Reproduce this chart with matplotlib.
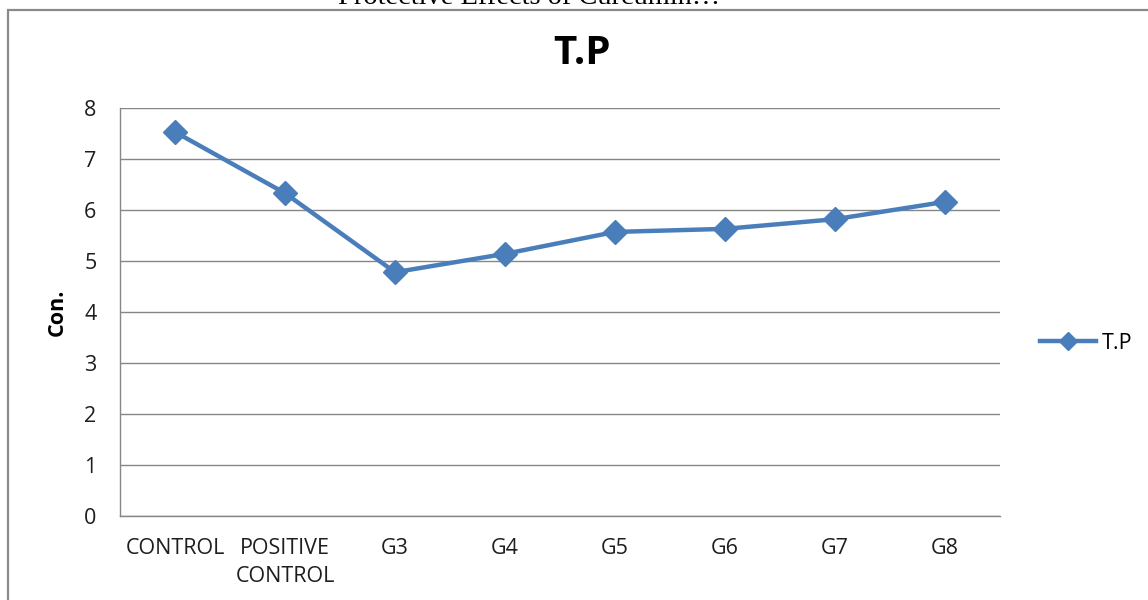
import matplotlib
matplotlib.use("Agg")
import matplotlib.pyplot as plt
from matplotlib.patches import Rectangle

categories = ["CONTROL", "POSITIVE\nCONTROL", "G3", "G4", "G5", "G6", "G7", "G8"]
values = [7.53, 6.33, 4.78, 5.14, 5.57, 5.63, 5.82, 6.16]
yticks = [0, 1, 2, 3, 4, 5, 6, 7, 8]
series_name = "T.P"

W, H = 1148, 600
fig = plt.figure(figsize=(W / 100, H / 100), dpi=100)
fig.patch.set_facecolor("white")

# outer chart frame
fig.add_artist(Rectangle((8 / W, -0.05), 1.2, 1 - 10 / H + 0.05, transform=fig.transFigure,
                         fill=False, edgecolor="#8a8a8a", linewidth=1.6, clip_on=False))
# cropped caption at the top (cut off in the reference as well)
fig.text(529 / W, 1 - 4 / H, "Protective Effects of Curcumin\u2026", ha="center", va="baseline",
         family="Liberation Serif", fontsize=20.4, color="black")

FS = 15.5
ax = fig.add_axes([120 / W, 1 - 516 / H, 880 / W, 408 / H])
xs = [i + 0.5 for i in range(len(categories))]
ax.plot(xs, values, color="#4A7EBB", linewidth=3.2, marker="D", markersize=12,
        label=series_name, solid_joinstyle="round")
ax.set_xlim(0, len(categories))
ax.set_ylim(0, 8)
ax.set_yticks(yticks)
ax.set_xticks(xs)
ax.set_xticklabels(categories, family="Open Sans", fontsize=FS, color="#1e1e1e", linespacing=1.4)
ax.set_yticklabels([str(v) for v in yticks], family="Open Sans", fontsize=FS, color="#1e1e1e")
ax.tick_params(axis="both", length=0)
ax.tick_params(axis="y", pad=17)
ax.tick_params(axis="x", pad=16)
ax.grid(axis="y", color="#868686", linewidth=1)
ax.set_axisbelow(True)
for s in ["top", "right"]:
    ax.spines[s].set_visible(False)
for s in ["left", "bottom"]:
    ax.spines[s].set_color("#868686")
    ax.spines[s].set_linewidth(1)
ax.set_ylabel("Con.", family="Open Sans", fontweight="bold", fontsize=FS, labelpad=12)
fig.text(582 / W, 1 - 53 / H, "T.P", ha="center", va="center", family="Open Sans",
         fontweight="bold", fontsize=29)
leg = ax.legend(loc="center left", bbox_to_anchor=(1.028, 0.424), frameon=False,
                prop={"family": "Open Sans", "size": FS}, handlelength=2.6, markerscale=0.75,
                handletextpad=0.3, borderpad=0.2)
fig.savefig("out.png", dpi=100)
